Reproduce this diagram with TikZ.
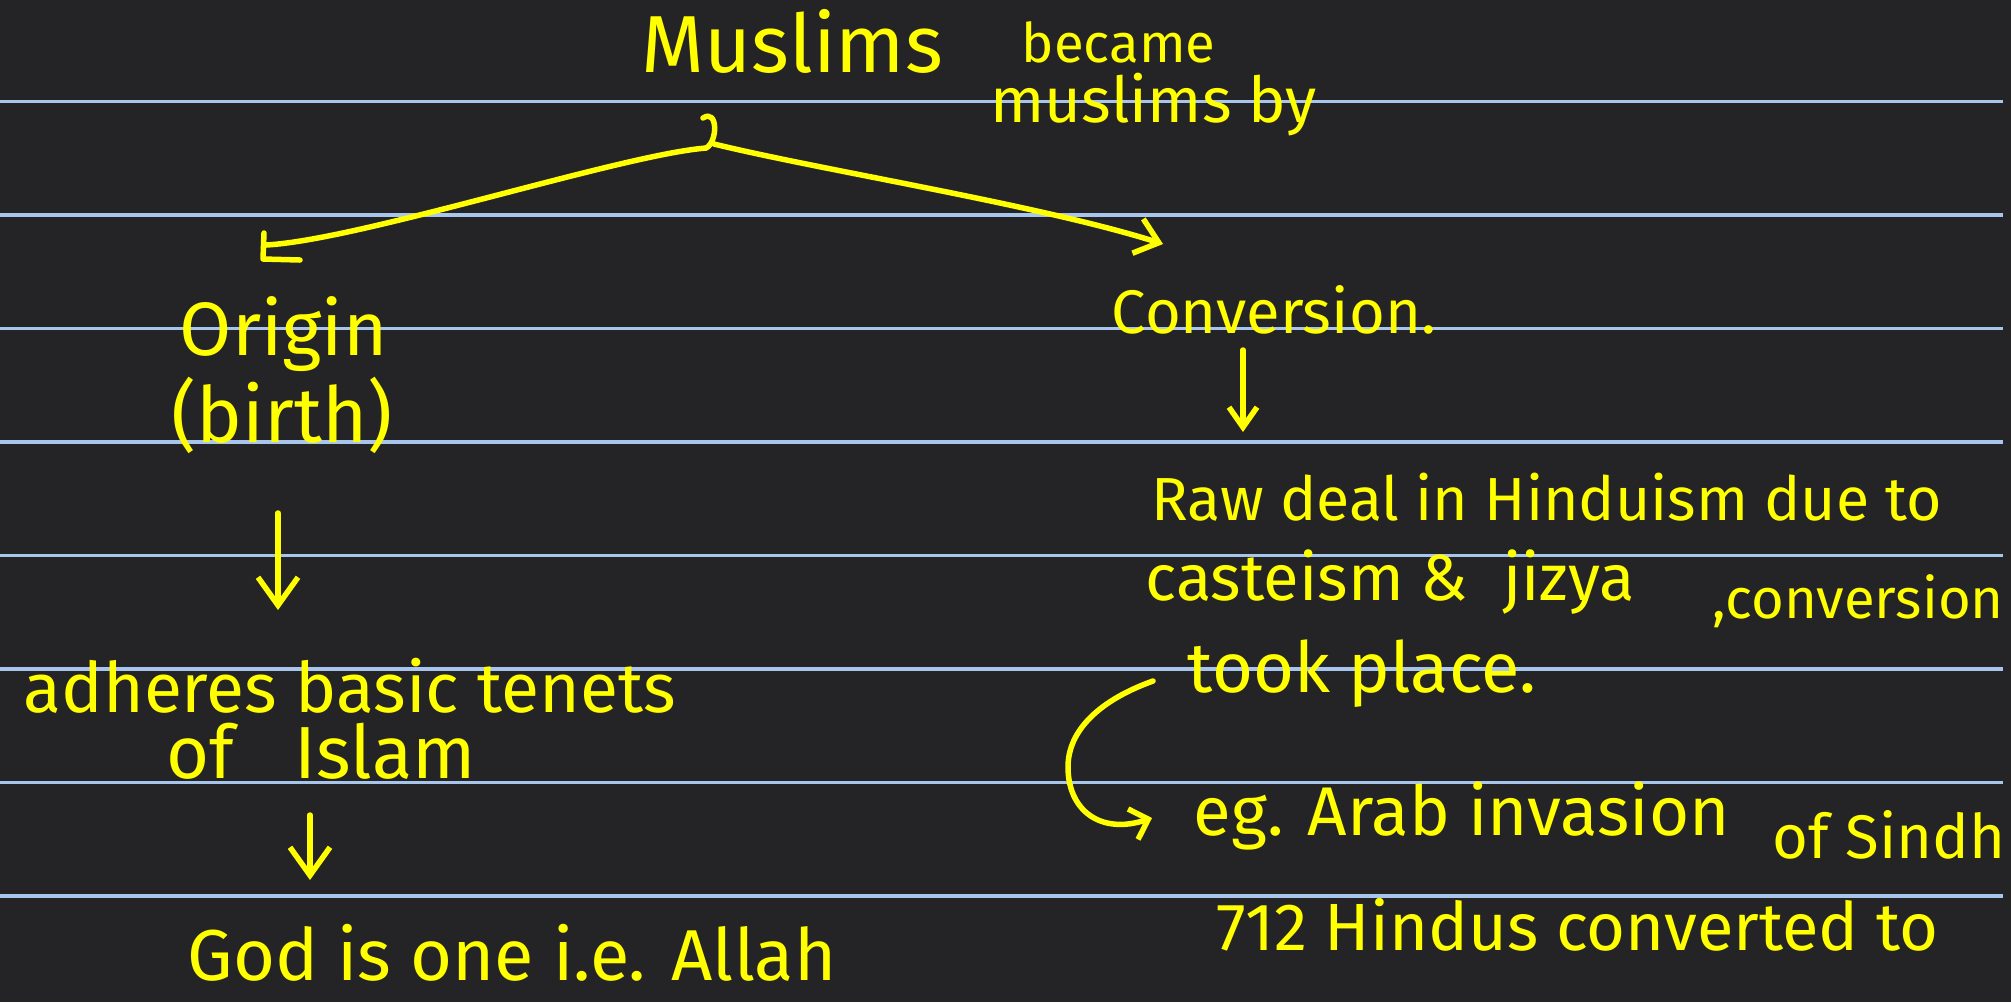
\documentclass[tikz,border=0pt]{standalone}
\usepackage{fontspec}
\setmainfont{Fira Sans}
\usetikzlibrary{arrows.meta,calc}

\definecolor{board}{RGB}{36,36,39}
\definecolor{rule}{RGB}{168,198,236}
\definecolor{marker}{RGB}{255,255,0}

\tikzset{
  note/.style={text=marker, inner sep=0pt, anchor=base west, font=\fontsize{18}{22}\selectfont},
  size/.style={font=\fontsize{#1}{#1}\selectfont},
  pen/.style={draw=marker, line width=0.055cm, line cap=round, line join=round},
  harrow/.style={pen, -{Straight Barb[length=0.28cm, width=0.4cm]}},
}

\begin{document}
\begin{tikzpicture}[x=0.01cm, y=-0.01cm]
\fill[board] (0,0) rectangle (2011,1002);
\useasboundingbox (0,0) rectangle (2011,1002);
% ruled lines
\foreach \y in {101.5,215,328.5,442,555.5,669,782.5,896}
  \draw[rule, line width=0.035cm] (0,\y) -- (2003,\y);

% heading
\node[note, size=23] (muslims) at (641,72) {Muslims};
\node[note, size=15.5] (became) at (1021,62) {became};
\node[note] (musby) at (990,122) {muslims by};

% left column
\node[note, size=21.5] (origin) at (179,355) {Origin};
\node[note, size=22] (birth) at (171,442) {(birth)};
\node[note, size=19.8] (adheres) at (23,712) {adheres basic tenets};
\node[note, size=21] (islam) at (166,778) {of\hspace{0.6cm}Islam};
\node[note, size=20.5] (god) at (187,980) {God is one i.e. Allah};

% right column
\node[note, size=17.5] (conv) at (1111,333) {Conversion.};
\node[note, size=17.3] (raw) at (1151,520) {Raw deal in Hinduism due to};
\node[note, size=18.5] (caste) at (1145,600) {casteism \&\hspace{0.35cm}jizya};
\node[note, size=16] (convb) at (1712,618) {,conversion};
\node[note, size=20] (took) at (1187,692) {took place.};
\node[note, size=19.6] (eg) at (1193,835) {eg. Arab invasion};
\node[note, size=17.5] (sindh) at (1772,858) {of Sindh};
\node[note, size=19] (hindus) at (1216,950) {712 Hindus converted to};

% fork under the heading
\coordinate (fork) at ($(muslims.base west)+(65,76)$);
\coordinate (tipO) at ($(origin.base west)+(87,-110)$);
\coordinate (tipC) at ($(conv.base west)+(52,-89)$);
\draw[pen] ($(fork)+(-3,-30)$) .. controls ($(fork)+(12,-40)$) and ($(fork)+(12,-6)$) .. (fork);
\draw[pen] (fork) .. controls (620,155) and (360,240) .. (tipO);
\draw[pen] ($(tipO)+(-2,-12)$) -- ($(tipO)+(-3,14)$) -- ($(tipO)+(34,15)$);
\draw[pen, -{Straight Barb[length=0.22cm, width=0.36cm]}]
  ($(fork)+(8,-4)$) .. controls (820,170) and (1040,205) .. (tipC);

% downward steps
\draw[harrow] ($(birth.base west)+(107,71)$) -- ($(adheres.base west)+(255,-102)$);
\draw[harrow] ($(islam.base west)+(144,37)$) -- ($(god.base west)+(123,-100)$);
\draw[harrow, -{Straight Barb[length=0.2cm, width=0.28cm]}]
  ($(conv.base west)+(132,17)$) -- ($(raw.base west)+(92,-88)$);
\draw[pen, -{Straight Barb[length=0.16cm, width=0.32cm]}]
  ($(took.base west)+(-34,-11)$) .. controls (1100,700) and (1068,730) .. (1068,767)
  .. controls (1068,810) and (1100,835) .. ($(eg.base west)+(-41,-17)$);
\end{tikzpicture}
\end{document}
